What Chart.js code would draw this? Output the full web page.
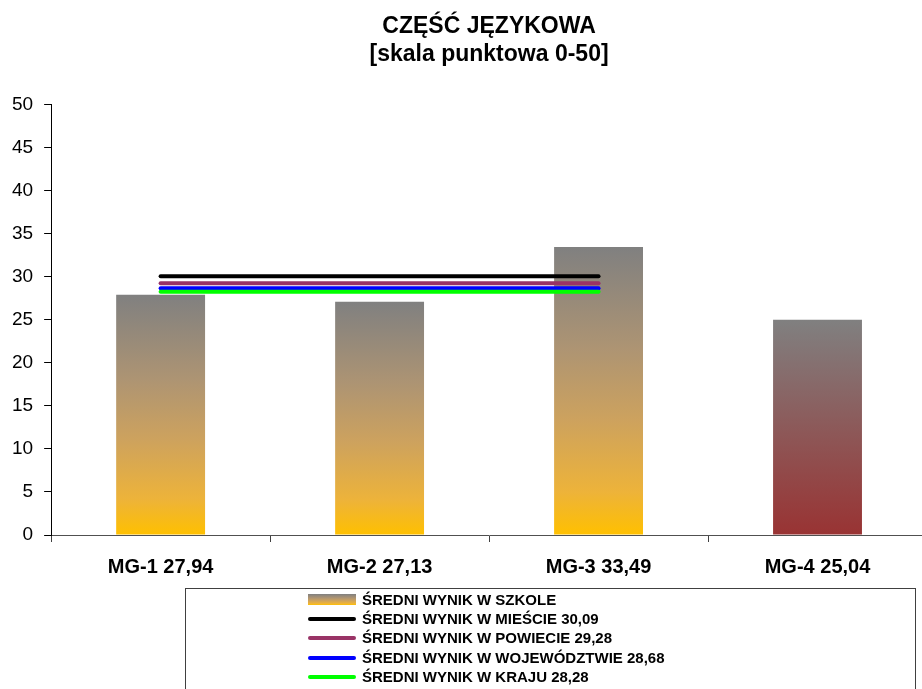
<!DOCTYPE html>
<html>
<head>
<meta charset="utf-8">
<script src="https://cdn.jsdelivr.net/npm/chart.js@4.4.0/dist/chart.umd.min.js"></script>
<style>
  html, body { margin: 0; padding: 0; background: #fff; overflow: hidden; }
</style>
</head>
<body>
<!-- a few px wider than the window: the plot runs off the right edge like the original -->
<canvas id="myChart" width="927" height="689"></canvas>
<script>
let categories = ["MG-1", "MG-2", "MG-3", "MG-4"];
let schoolScores = [27.94, 27.13, 33.49, 25.04];
let schoolLabel = "ŚREDNI WYNIK W SZKOLE";

let refLabels = [
  "ŚREDNI WYNIK W MIEŚCIE",
  "ŚREDNI WYNIK W POWIECIE",
  "ŚREDNI WYNIK W WOJEWÓDZTWIE",
  "ŚREDNI WYNIK W KRAJU"
];
let refValues = [30.09, 29.28, 28.68, 28.28];
// the reference lines only run over the first three groups
let refSpan = [true, true, true, false];

let titleLines = ["CZĘŚĆ JĘZYKOWA", "[skala punktowa 0-50]"];
let yMin = 0;
let yMax = 50;
let yStep = 5;

let refColors = ["#000000", "#993366", "#0000ff", "#00ff00"];
let fontFamily = "'Liberation Sans', Arial, sans-serif";

// gray -> orange fill, last bar gray -> dark red
let orangeStops = [[0, "#808080"], [0.35, "#ad9473"], [0.6, "#cda25e"], [0.85, "#edb33a"], [1, "#ffc000"]];
let redStops = [[0, "#808080"], [1, "#993333"]];
let barStops = [orangeStops, orangeStops, orangeStops, redStops];

let fmt = v => v.toFixed(2).replace(".", ",");
let xLabels = categories.map((c, i) => `${c} ${fmt(schoolScores[i])}`);

let makeGradient = (ctx, top, bottom, stops) => {
  let g = ctx.createLinearGradient(0, top, 0, bottom);
  stops.forEach(s => g.addColorStop(s[0], s[1]));
  return g;
};

let barGradient = context => {
  let chart = context.chart;
  if (!chart.chartArea || context.dataIndex === undefined) return "#808080";
  let y = chart.scales.y;
  let top = y.getPixelForValue(schoolScores[context.dataIndex]);
  let bottom = y.getPixelForValue(0);
  return makeGradient(chart.ctx, top, bottom, barStops[context.dataIndex]);
};

let datasets = [
  {
    type: "bar",
    label: schoolLabel,
    data: schoolScores,
    backgroundColor: barGradient,
    borderWidth: 0,
    barPercentage: 0.406,
    categoryPercentage: 1,
    order: 10
  }
];
refLabels.forEach((label, i) => {
  datasets.push({
    type: "line",
    label: `${label} ${fmt(refValues[i])}`,
    data: refSpan.map(on => (on ? refValues[i] : null)),
    borderColor: refColors[i],
    borderWidth: 4,
    borderCapStyle: "round",
    pointRadius: 0,
    fill: false,
    spanGaps: false,
    order: 4 - i
  });
});

// boxed single-column legend under the chart
let boxLegend = {
  id: "boxLegend",
  afterDraw(chart) {
    let ctx = chart.ctx;
    ctx.save();
    ctx.strokeStyle = "#404040";
    ctx.lineWidth = 1;
    ctx.strokeRect(185.5, 588.5, 730, 120);

    let symX = 308, symW = 48, textX = 362;
    let rowY = [600, 619, 638, 658, 677];
    ctx.font = "bold 15px " + fontFamily;
    ctx.textBaseline = "middle";

    chart.data.datasets.forEach((ds, i) => {
      let y = rowY[i];
      if (ds.type === "bar") {
        ctx.fillStyle = makeGradient(ctx, y - 6, y + 5, orangeStops);
        ctx.fillRect(symX, y - 6, symW, 11);
      } else {
        ctx.strokeStyle = ds.borderColor;
        ctx.lineWidth = 4;
        ctx.lineCap = "round";
        ctx.beginPath();
        ctx.moveTo(symX + 2, y);
        ctx.lineTo(symX + symW - 2, y);
        ctx.stroke();
      }
      ctx.fillStyle = "#000";
      ctx.fillText(ds.label, textX, y + 1);
    });
    ctx.restore();
  }
};

let ctx = document.getElementById("myChart").getContext("2d");
let myChart = new Chart(ctx, {
  data: { labels: xLabels, datasets: datasets },
  options: {
    responsive: false,
    animation: false,
    layout: { padding: { left: 1, right: 0, top: 0, bottom: 97 } },
    plugins: {
      legend: { display: false },
      tooltip: { enabled: false },
      title: {
        display: true,
        text: titleLines,
        fullSize: false,
        color: "#000",
        font: { family: fontFamily, size: 23, weight: "bold", lineHeight: 1.217 },
        padding: { top: 13, bottom: 36 }
      }
    },
    scales: {
      x: {
        grid: {
          display: true,
          offset: true,
          drawOnChartArea: false,
          drawTicks: true,
          tickLength: 7,
          color: "#404040"
        },
        border: { display: true, color: "#505050", width: 1 },
        ticks: {
          color: "#000",
          padding: 13,
          maxRotation: 0,
          font: { family: fontFamily, size: 20, weight: "bold" }
        }
      },
      y: {
        min: yMin,
        max: yMax,
        grid: {
          display: true,
          drawOnChartArea: false,
          drawTicks: true,
          tickLength: 7,
          color: "#000"
        },
        border: { display: true, color: "#000", width: 1 },
        ticks: {
          stepSize: yStep,
          color: "#000",
          padding: 11,
          font: { family: fontFamily, size: 19 }
        }
      }
    }
  },
  plugins: [boxLegend]
});
</script>
</body>
</html>
